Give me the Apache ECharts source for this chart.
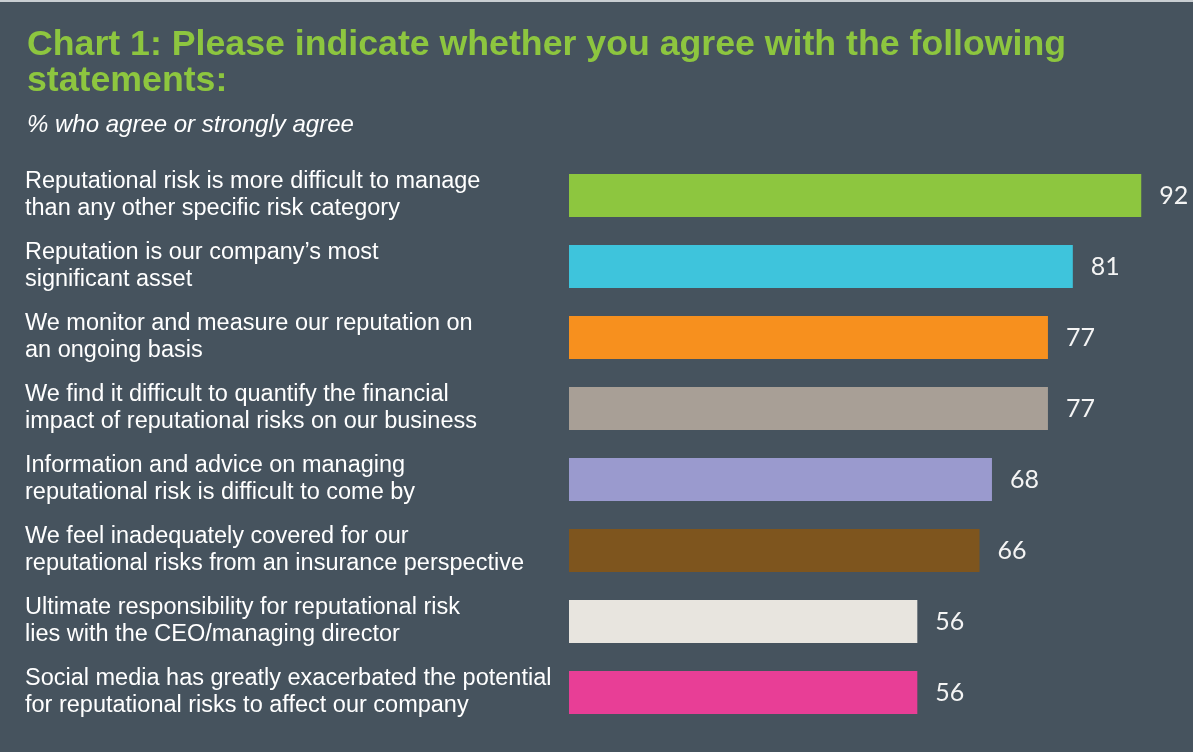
<!DOCTYPE html>
<html>
<head>
<meta charset="utf-8">
<script src="https://cdn.jsdelivr.net/npm/echarts@6/dist/echarts.min.js"></script>
<style>
html,body{margin:0;padding:0;background:#46535e;}
#chart{width:1193px;height:752px;}
</style>
</head>
<body>
<div id="chart"></div>
<script>
const categories = [
  "Reputational risk is more difficult to manage\nthan any other specific risk category",
  "Reputation is our company\u2019s most\nsignificant asset",
  "We monitor and measure our reputation on\nan ongoing basis",
  "We find it difficult to quantify the financial\nimpact of reputational risks on our business",
  "Information and advice on managing\nreputational risk is difficult to come by",
  "We feel inadequately covered for our\nreputational risks from an insurance perspective",
  "Ultimate responsibility for reputational risk\nlies with the CEO/managing director",
  "Social media has greatly exacerbated the potential\nfor reputational risks to affect our company"
];
const values = [92, 81, 77, 77, 68, 66, 56, 56];
const barColors = ["#8dc63f", "#3ec4dc", "#f7901e", "#a89f96", "#9a9ace", "#7e551e", "#e8e5df", "#e83e96"];
const titleText = "Chart 1: Please indicate whether you agree with the following\nstatements:";
const subtitleText = "% who agree or strongly agree";

const chart = echarts.init(document.getElementById('chart'), null, {renderer: 'canvas'});
const sans = '"Liberation Sans", Arial, sans-serif';
chart.setOption({
  backgroundColor: '#46535e',
  animation: false,
  title: {
    text: titleText,
    subtext: subtitleText,
    left: 22,
    top: 22,
    itemGap: 13,
    textStyle: {
      color: '#8dc63f',
      fontFamily: sans,
      fontWeight: 'bold',
      fontSize: 35.7,
      lineHeight: 36
    },
    subtextStyle: {
      color: '#ffffff',
      fontFamily: sans,
      fontStyle: 'italic',
      fontSize: 24,
      lineHeight: 26
    }
  },
  graphic: [{
    type: 'rect',
    shape: {x: 0, y: 0, width: 1193, height: 2},
    style: {fill: '#c9ced2'},
    silent: true
  }],
  grid: {left: 569, right: 2, top: 160, bottom: 24, containLabel: false},
  xAxis: {
    type: 'value',
    min: 0,
    max: 100,
    show: false
  },
  yAxis: {
    type: 'category',
    inverse: true,
    data: categories,
    axisLine: {show: false},
    axisTick: {show: false},
    splitLine: {show: false},
    axisLabel: {
      align: 'left',
      margin: 544,
      color: '#ffffff',
      fontFamily: sans,
      fontSize: 23.5,
      lineHeight: 27
    }
  },
  series: [{
    type: 'bar',
    barWidth: 43,
    data: values.map((v, i) => ({value: v, itemStyle: {color: barColors[i]}})),
    label: {
      show: true,
      position: 'right',
      distance: 18,
      color: '#f4f4f4',
      fontFamily: 'Lato, "Open Sans", sans-serif',
      fontSize: 25
    }
  }]
});
</script>
</body>
</html>
